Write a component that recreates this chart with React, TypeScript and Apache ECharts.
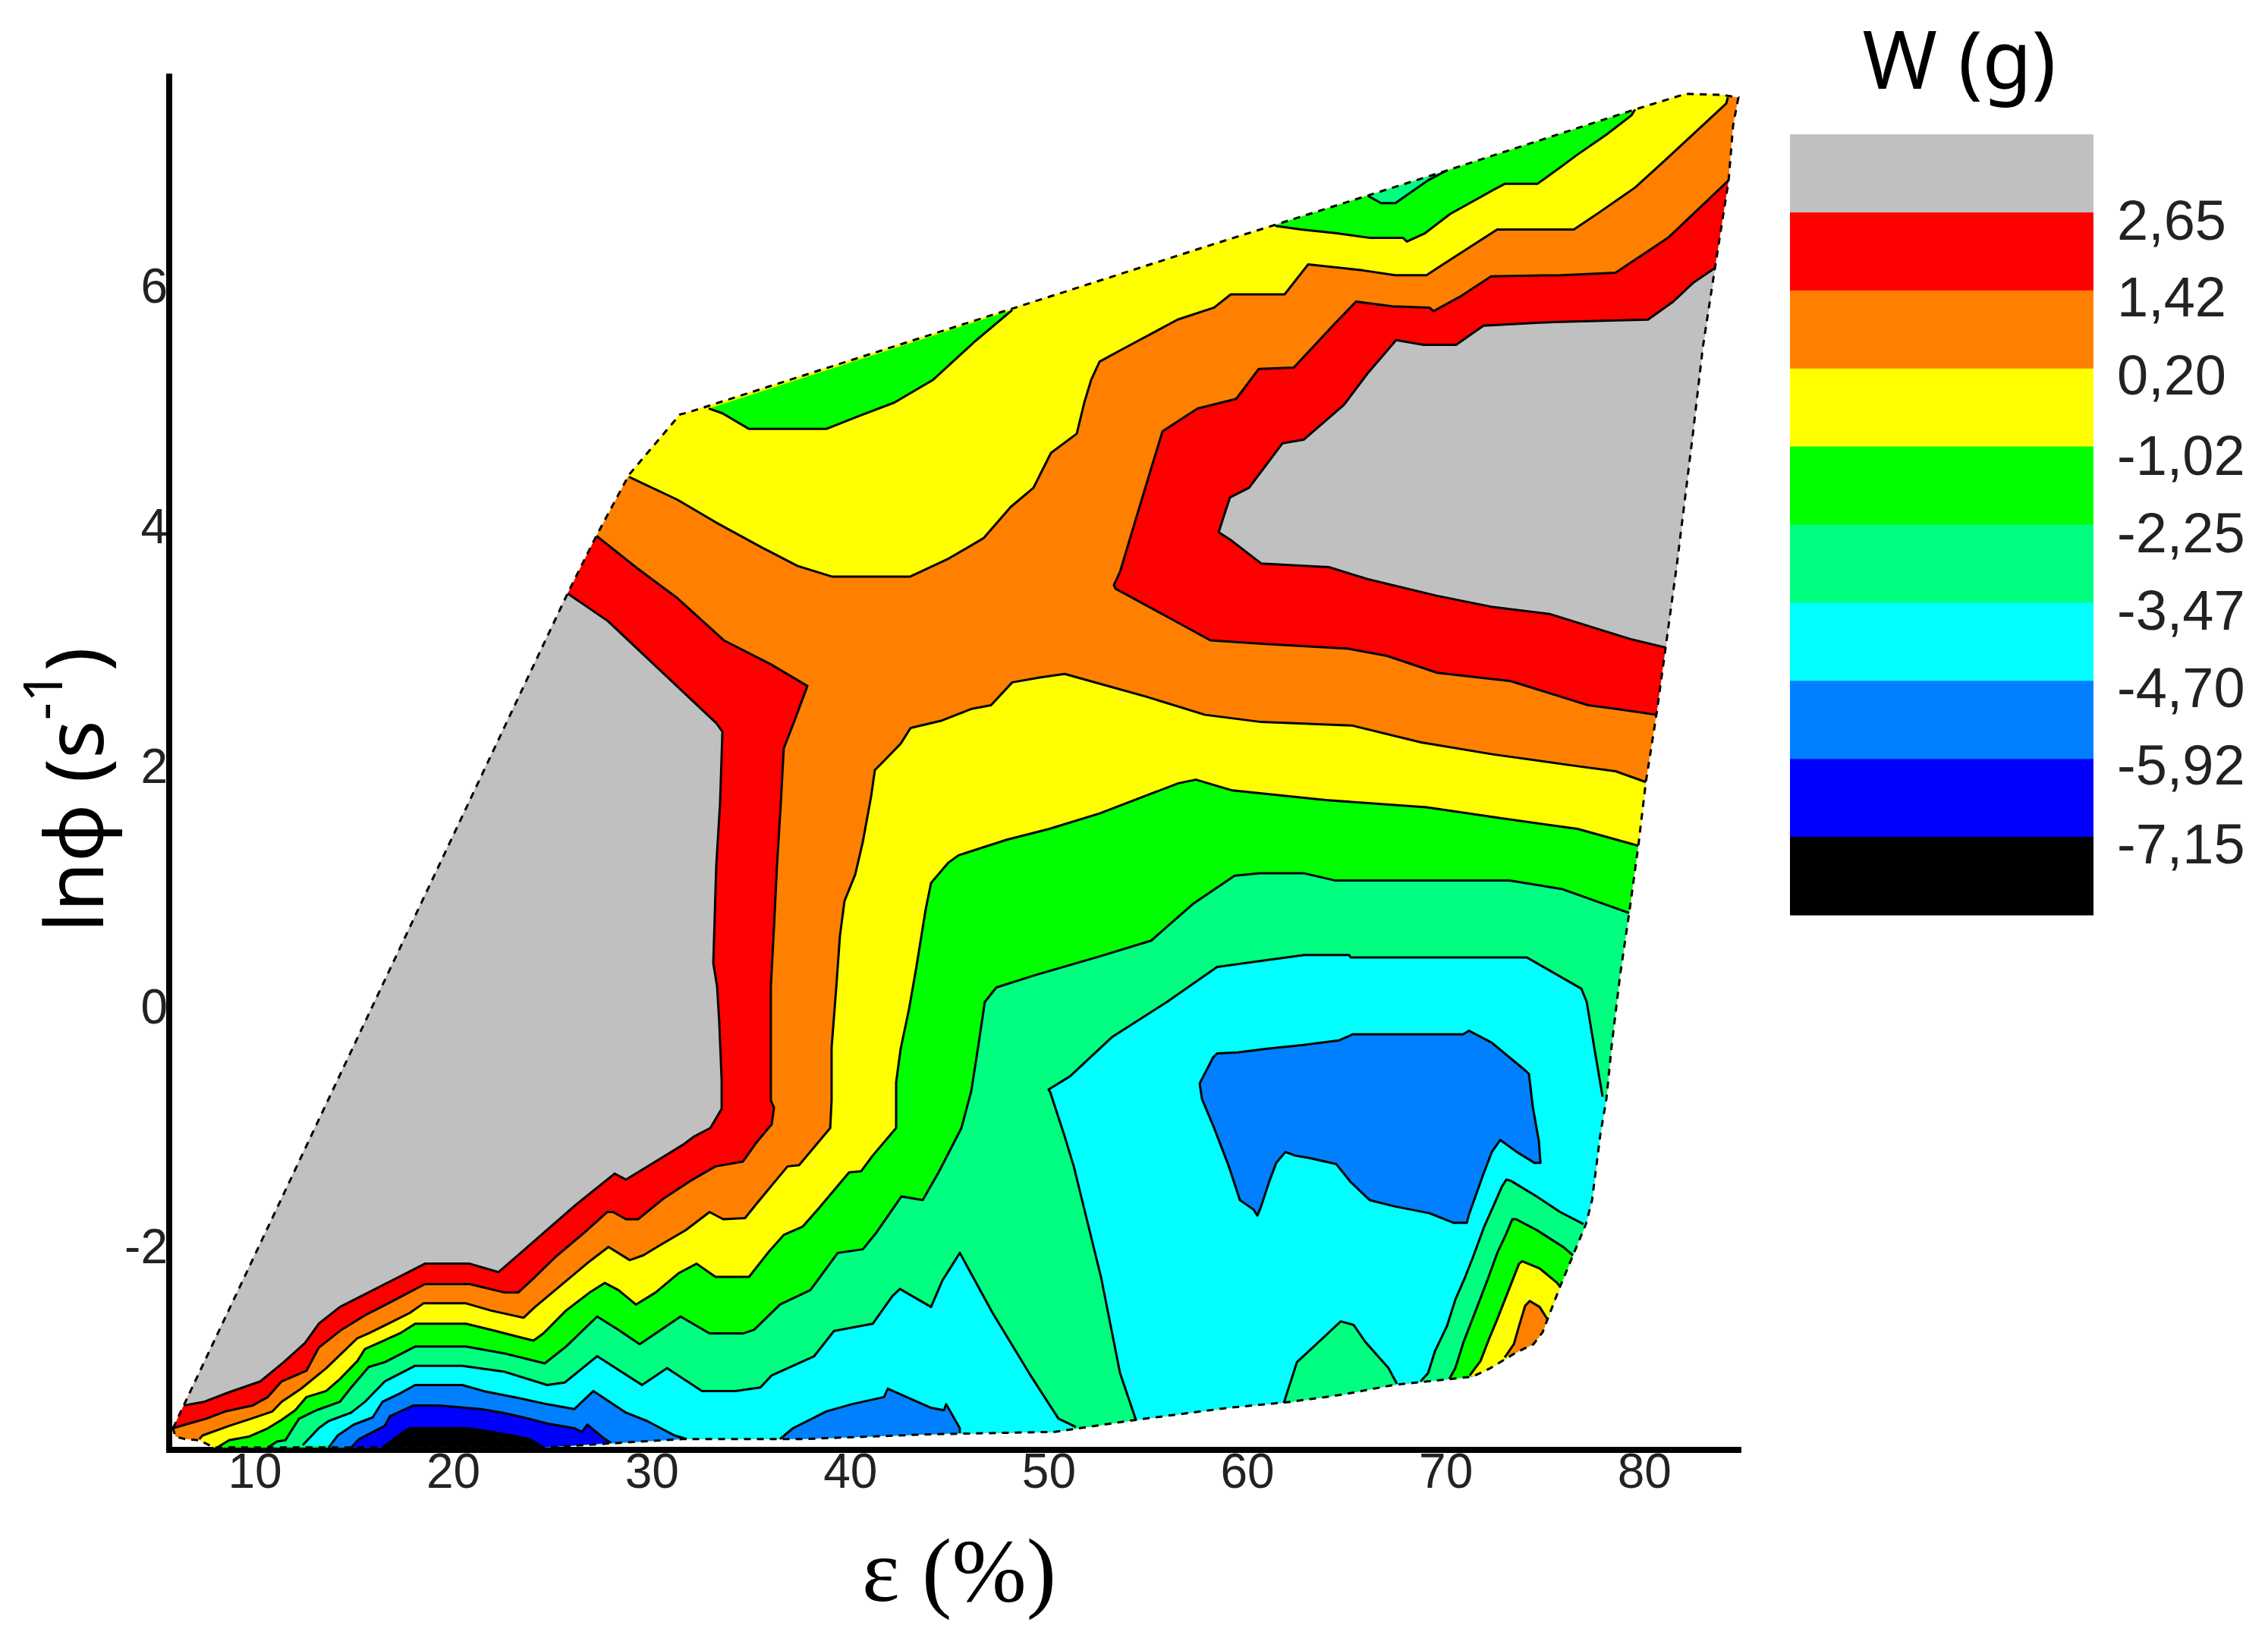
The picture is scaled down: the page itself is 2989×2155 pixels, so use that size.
import React, { useEffect, useRef } from "react";
import * as echarts from "echarts";

type P = [number, number];

const xTicks = [10, 20, 30, 40, 50, 60, 70, 80];
const yTicks = [-2, 0, 2, 4, 6];
const levelLabels = ["2,65", "1,42", "0,20", "-1,02", "-2,25", "-3,47", "-4,70", "-5,92", "-7,15"];
const levelColors = ["#C0C0C0", "#FF0000", "#FF8000", "#FFFF00", "#00FF00", "#00FF80", "#00FFFF", "#0080FF", "#0000FF", "#000000"];
const [GRAY, RED, ORANGE, YELLOW, GREEN, SPRING, CYAN, AZURE, BLUE, BLACK] = levelColors;

// Outline of the measured domain, clockwise on screen
const hull: P[] = [[5.87,-3.51],[6.41,-3.32],[25.75,3.44],[27.2,3.92],[28.85,4.43],[31.41,4.93],[31.87,4.95],[58.32,6.35],[61.41,6.51],[70.02,6.96],[79.53,7.47],[82.09,7.6],[83.93,7.59],[84.73,7.57],[84.46,7.33],[84.24,6.88],[83.55,6.15],[82.94,5.49],[82.44,4.77],[81.64,3.69],[80.95,2.85],[80.6,2.43],[80.07,1.87],[79.69,1.34],[79.23,0.78],[78.77,0.26],[78.35,-0.32],[78.08,-0.77],[77.78,-1.06],[77.36,-1.61],[77.05,-1.81],[75.75,-2.33],[75.1,-2.61],[74.87,-2.71],[74.41,-2.81],[73.53,-2.88],[72.23,-3.01],[71.35,-3.08],[67.34,-3.15],[64.78,-3.23],[62.18,-3.29],[59.04,-3.34],[54.38,-3.44],[50.29,-3.54],[44.02,-3.56],[37.6,-3.6],[31.56,-3.6],[24.53,-3.67],[7.94,-3.67],[7.2,-3.61],[6.48,-3.6],[5.99,-3.58]];

// Contour lines
const grayLeft: P[] = [[25.75,3.44],[27.78,3.21],[33.24,2.36],[33.55,2.29],[33.43,1.69],[33.24,1.18],[33.09,0.36],[33.28,0.17],[33.39,-0.13],[33.51,-0.61],[33.51,-0.85],[32.94,-1.01],[32.13,-1.08],[31.56,-1.15],[28.69,-1.44],[28.12,-1.39],[26.09,-1.66],[23.53,-2.03],[22.27,-2.21],[20.82,-2.14],[18.56,-2.14],[16.54,-2.31],[14.28,-2.5],[13.21,-2.64],[12.52,-2.8],[11.45,-2.96],[10.27,-3.12],[8.7,-3.21],[7.44,-3.29],[6.41,-3.32]];
const redLeft: P[] = [[27.2,3.92],[29.34,3.64],[31.29,3.4],[33.62,3.05],[35.99,2.85],[37.83,2.67],[37.18,2.38],[36.64,2.15],[36.49,1.69],[36.3,1.18],[36.15,0.67],[35.99,0.17],[35.99,-0.78],[36.15,-0.84],[36.03,-0.98],[35.27,-1.13],[34.58,-1.29],[33.2,-1.33],[31.94,-1.45],[30.57,-1.6],[29.3,-1.77],[28.69,-1.77],[28.04,-1.71],[27.74,-1.71],[26.67,-1.87],[25.1,-2.09],[24.11,-2.25],[23.26,-2.38],[22.58,-2.38],[20.82,-2.31],[18.56,-2.31],[17.3,-2.42],[15.54,-2.57],[14.36,-2.69],[13.21,-2.84],[12.6,-3.03],[11.34,-3.12],[10.65,-3.25],[9.89,-3.32],[8.51,-3.37],[7.55,-3.43],[6.48,-3.48],[5.87,-3.51]];
const grayRight: P[] = [[81.06,2.99],[79.3,3.06],[75.21,3.27],[72.27,3.33],[69.56,3.42],[66.04,3.56],[64.09,3.66],[61.76,3.68],[60.69,3.69],[59.2,3.88],[58.55,3.95],[58.78,4.07],[59.12,4.24],[60.08,4.32],[61.76,4.69],[62.83,4.72],[64.86,5.01],[66.04,5.27],[67.49,5.55],[68.87,5.51],[70.51,5.51],[71.89,5.67],[75.41,5.7],[80.18,5.72],[81.45,5.87],[82.48,6.03],[83.55,6.15]];
const redRight: P[] = [[80.6,2.43],[78.54,2.48],[77.16,2.51],[73.26,2.71],[69.56,2.78],[67.03,2.92],[65.08,2.98],[60.88,3.02],[58.13,3.05],[55.91,3.25],[53.35,3.48],[53.27,3.51],[53.58,3.62],[54.34,4.04],[55.11,4.46],[55.72,4.79],[57.48,4.98],[59.43,5.06],[60.57,5.31],[62.33,5.32],[64.47,5.7],[65.47,5.87],[67.3,5.83],[69.17,5.82],[69.37,5.79],[70.7,5.91],[72.27,6.08],[75.79,6.09],[78.54,6.11],[81.18,6.4],[84.24,6.88]];
const yellowUpper: P[] = [[84.2,7.57],[84.12,7.52],[80.99,7.04],[79.53,6.82],[77.7,6.61],[76.44,6.47],[72.58,6.47],[69.67,6.16],[69.02,6.09],[67.45,6.09],[65.81,6.13],[63.06,6.18],[61.87,5.93],[59.16,5.93],[58.32,5.82],[56.48,5.72],[53.77,5.48],[52.55,5.37],[52.13,5.22],[51.78,5.03],[51.4,4.77],[50.1,4.61],[49.22,4.32],[48.07,4.16],[46.7,3.9],[44.94,3.73],[42.99,3.58],[39.09,3.58],[37.33,3.67],[35.57,3.82],[33.24,4.03],[31.29,4.22],[28.85,4.41]];
const greenUpper: P[] = [[48.15,5.8],[46.28,5.54],[44.17,5.22],[42.22,5.03],[40.47,4.92],[38.78,4.81],[34.89,4.81],[33.55,4.94],[32.86,4.98]];
const greenUpperRight: P[] = [[79.53,7.47],[79.34,7.42],[78.08,7.26],[76.59,7.09],[75.86,7],[74.6,6.85],[72.96,6.85],[72.39,6.8],[70.21,6.6],[68.95,6.44],[68.03,6.37],[67.84,6.4],[66.19,6.4],[64.43,6.44],[62.71,6.47],[61.41,6.5]];
const springUpper: P[] = [[70.02,6.96],[69.1,6.88],[67.45,6.69],[66.73,6.69],[66.08,6.75]];
const yellowLower: P[] = [[7.2,-3.6],[7.36,-3.57],[8.7,-3.49],[9.81,-3.43],[10.88,-3.37],[11.34,-3.29],[12.33,-3.18],[13.59,-3.01],[15.16,-2.76],[15.73,-2.72],[17.8,-2.55],[18.49,-2.47],[20.63,-2.47],[21.89,-2.53],[23.53,-2.59],[24.11,-2.5],[25.48,-2.31],[26.86,-2.12],[27.81,-2],[28.88,-2.11],[29.57,-2.07],[30.26,-2],[31.71,-1.86],[32.9,-1.71],[33.59,-1.77],[34.69,-1.76],[35.27,-1.64],[36.83,-1.33],[37.41,-1.32],[38.98,-1.01],[39.05,-0.78],[39.05,-0.34],[39.28,0.15],[39.47,0.59],[39.7,0.88],[40.24,1.1],[40.62,1.37],[41.04,1.75],[41.23,1.97],[41.77,2.06],[42.53,2.19],[43.03,2.32],[44.56,2.38],[46.12,2.48],[47.08,2.51],[48.15,2.7],[49.53,2.74],[50.79,2.77],[52.74,2.68],[54.92,2.58],[57.86,2.43],[60.69,2.37],[65.28,2.34],[68.75,2.2],[72.39,2.1],[76.28,2.01],[78.54,1.96],[80.07,1.87]];
const greenLower: P[] = [[8.1,-3.67],[8.7,-3.61],[9.69,-3.58],[10.65,-3.51],[11.34,-3.44],[12.03,-3.36],[12.6,-3.25],[13.59,-3.2],[14.28,-3.1],[15.16,-2.95],[15.54,-2.85],[17.3,-2.72],[18.07,-2.64],[20.63,-2.64],[21.89,-2.69],[23.53,-2.76],[24.03,-2.78],[24.53,-2.72],[25.67,-2.53],[26.86,-2.38],[27.62,-2.3],[28.31,-2.36],[29.19,-2.48],[30.18,-2.38],[31.33,-2.22],[32.25,-2.14],[33.2,-2.25],[34.89,-2.25],[35.84,-2.05],[36.64,-1.9],[37.6,-1.83],[38.4,-1.68],[39.93,-1.38],[40.54,-1.37],[41.12,-1.24],[42.3,-1.01],[42.3,-0.63],[42.53,-0.35],[42.95,-0.02],[43.3,0.31],[43.79,0.81],[44.06,1.03],[44.94,1.2],[45.44,1.26],[47.88,1.39],[50.02,1.48],[52.58,1.61],[56.52,1.86],[57.4,1.89],[59.24,1.8],[63.94,1.72],[69.02,1.66],[72.73,1.57],[76.63,1.48],[79.69,1.34]];
const springLower: P[] = [[10.65,-3.67],[11.11,-3.62],[11.53,-3.61],[12.22,-3.43],[13.1,-3.36],[14.28,-3.29],[14.85,-3.17],[15.73,-3],[16.54,-2.96],[18.07,-2.83],[20.63,-2.83],[22.65,-2.89],[24.6,-2.97],[25.67,-2.83],[27.24,-2.58],[28.31,-2.69],[29.38,-2.81],[31.44,-2.58],[32.9,-2.72],[34.62,-2.72],[35.15,-2.69],[36.45,-2.48],[37.98,-2.36],[39.36,-2.05],[40.62,-2.02],[41.31,-1.88],[42.57,-1.58],[43.64,-1.61],[44.44,-1.38],[45.59,-1.01],[46.09,-0.7],[46.39,-0.38],[46.77,0.04],[47.35,0.16],[49.26,0.26],[52.58,0.42],[55.15,0.55],[57.29,0.86],[59.35,1.09],[60.61,1.11],[62.87,1.11],[64.43,1.05],[73.19,1.05],[75.83,0.98],[79.23,0.78]];
const cyanLeft: P[] = [[12.41,-3.65],[13.21,-3.51],[13.71,-3.45],[14.85,-3.38],[15.54,-3.29],[16.54,-3.12],[18.07,-2.99],[20.44,-2.99],[22.58,-3.04],[24.72,-3.15],[25.6,-3.13],[27.24,-2.91],[29.5,-3.15],[30.76,-3.01],[32.52,-3.2],[34.2,-3.2],[35.46,-3.17],[36.03,-3.07],[38.17,-2.91],[39.17,-2.7],[41.12,-2.64],[42.11,-2.41],[42.49,-2.35],[44.06,-2.5],[44.63,-2.28],[45.51,-2.05],[47.16,-2.55],[49.11,-3.08],[50.48,-3.43],[51.36,-3.5]];
const cyanRight: P[] = [[54.38,-3.44],[53.58,-3.05],[52.62,-2.25],[51.25,-1.33],[50.79,-1.08],[50.06,-0.71],[49.98,-0.69],[51.06,-0.58],[53.2,-0.25],[55.95,0.04],[58.47,0.33],[60.61,0.38],[62.87,0.43],[65.12,0.43],[65.2,0.41],[74.07,0.41],[76.82,0.15],[77.09,0.04],[77.51,-0.38],[77.89,-0.75]];
const azureLeft: P[] = [[13.71,-3.67],[14.17,-3.57],[14.97,-3.48],[15.93,-3.42],[16.42,-3.29],[17.3,-3.22],[18.07,-3.15],[20.44,-3.15],[21.51,-3.2],[23.34,-3.26],[24.72,-3.31],[26.09,-3.35],[27.05,-3.2],[28.69,-3.38],[29.76,-3.45],[31.14,-3.57],[31.75,-3.6]];
const blueLeft: P[] = [[14.85,-3.67],[15.24,-3.6],[16.54,-3.49],[16.8,-3.41],[17.99,-3.32],[19.25,-3.32],[21.39,-3.35],[22.46,-3.38],[23.53,-3.42],[24.72,-3.47],[26.09,-3.51],[26.48,-3.54],[26.74,-3.48],[27.55,-3.59],[27.93,-3.63]];
const blackLeft: P[] = [[16.42,-3.67],[17.49,-3.54],[17.8,-3.51],[20.7,-3.51],[21.89,-3.54],[22.96,-3.57],[23.84,-3.6],[24.53,-3.67]];
const azureMiddle: P[] = [[36.45,-3.6],[37.1,-3.51],[38.78,-3.37],[40.05,-3.31],[41.69,-3.25],[41.88,-3.18],[44.06,-3.34],[44.71,-3.36],[44.82,-3.31],[45.51,-3.51],[45.51,-3.55]];
const azureIsland: P[] = [[57.59,-0.64],[58.28,-0.42],[58.47,-0.39],[59.54,-0.38],[60.99,-0.35],[62.75,-0.32],[64.62,-0.28],[65.31,-0.23],[70.86,-0.23],[71.16,-0.2],[72.31,-0.3],[73.99,-0.53],[74.18,-0.56],[74.37,-0.83],[74.68,-1.12],[74.76,-1.3],[74.45,-1.3],[73.57,-1.21],[72.73,-1.11],[72.31,-1.21],[71.85,-1.41],[71.16,-1.73],[71.05,-1.8],[70.4,-1.8],[69.17,-1.72],[67.34,-1.66],[66.15,-1.61],[65.2,-1.46],[64.47,-1.31],[63.1,-1.26],[62.41,-1.24],[61.91,-1.21],[61.45,-1.3],[61.11,-1.45],[60.65,-1.68],[60.5,-1.74],[60.31,-1.69],[59.62,-1.61],[59.04,-1.32],[58.32,-1.01],[57.71,-0.77],[57.59,-0.64]];
const springBump: P[] = [[61.83,-3.3],[62.22,-3.1],[62.49,-2.96],[63.6,-2.79],[64.7,-2.62],[65.35,-2.65],[65.93,-2.79],[67.11,-3.01],[67.53,-3.14]];
const springCorner: P[] = [[68.72,-3.12],[69.1,-3.05],[69.44,-2.87],[70.05,-2.66],[70.47,-2.44],[70.97,-2.25],[71.35,-2.09],[71.93,-1.83],[72.39,-1.66],[72.81,-1.5],[73.04,-1.44],[73.27,-1.45],[74.57,-1.58],[75.75,-1.71],[76.93,-1.81]];
const greenCorner: P[] = [[70.17,-3.1],[70.47,-3.01],[70.89,-2.79],[71.5,-2.53],[72.08,-2.28],[72.61,-2.04],[73.04,-1.89],[73.34,-1.77],[73.53,-1.77],[74.57,-1.86],[75.9,-2],[76.4,-2.07]];
const yellowCorner: P[] = [[71.2,-3.07],[71.74,-2.95],[72.16,-2.77],[72.54,-2.62],[73.11,-2.38],[73.68,-2.14],[73.84,-2.12],[74.72,-2.18],[75.6,-2.3],[75.75,-2.33]];
const orangeCorner: P[] = [[72.96,-2.92],[73.42,-2.81],[73.68,-2.66],[73.99,-2.49],[74.22,-2.45],[74.72,-2.5],[75.1,-2.6]];

function nearestSegment(p: P): number {
  let best = 0, bestD = Infinity;
  hull.forEach((a, i) => {
    const b = hull[(i + 1) % hull.length];
    const dx = b[0] - a[0], dy = b[1] - a[1];
    const t = Math.max(0, Math.min(1, ((p[0] - a[0]) * dx + (p[1] - a[1]) * dy) / (dx * dx + dy * dy)));
    const ex = a[0] + t * dx - p[0], ey = (a[1] + t * dy - p[1]) * 3;
    const d = ex * ex + ey * ey;
    if (d < bestD) { bestD = d; best = i; }
  });
  return best;
}

// A region: its contour, closed by walking the outline clockwise from the contour's end to its start
function closeOnHull(c: P[]): P[] {
  const i = nearestSegment(c[c.length - 1]);
  const j = nearestSegment(c[0]);
  const arc: P[] = [];
  for (let k = i; k !== j; k = (k + 1) % hull.length) arc.push(hull[(k + 1) % hull.length]);
  return c.concat(arc);
}

const fills: { pts: P[]; color: string }[] = [
  { pts: hull, color: ORANGE },
  { pts: closeOnHull(redLeft), color: RED },
  { pts: closeOnHull(grayLeft), color: GRAY },
  { pts: closeOnHull(redRight), color: RED },
  { pts: closeOnHull(grayRight), color: GRAY },
  { pts: closeOnHull(yellowUpper), color: YELLOW },
  { pts: closeOnHull(greenUpper), color: GREEN },
  { pts: closeOnHull(greenUpperRight), color: GREEN },
  { pts: closeOnHull(springUpper), color: SPRING },
  { pts: closeOnHull(yellowLower), color: YELLOW },
  { pts: closeOnHull(greenLower), color: GREEN },
  { pts: closeOnHull(springLower), color: SPRING },
  { pts: closeOnHull(cyanLeft), color: CYAN },
  { pts: closeOnHull(cyanRight), color: CYAN },
  { pts: closeOnHull(azureLeft), color: AZURE },
  { pts: closeOnHull(blueLeft), color: BLUE },
  { pts: closeOnHull(blackLeft), color: BLACK },
  { pts: closeOnHull(azureMiddle), color: AZURE },
  { pts: azureIsland, color: AZURE },
  { pts: closeOnHull(springBump), color: SPRING },
  { pts: closeOnHull(springCorner), color: SPRING },
  { pts: closeOnHull(greenCorner), color: GREEN },
  { pts: closeOnHull(yellowCorner), color: YELLOW },
  { pts: closeOnHull(orangeCorner), color: ORANGE },
];

const lines: P[][] = [grayLeft, redLeft, grayRight, redRight, yellowUpper, greenUpper, greenUpperRight, springUpper, yellowLower, greenLower, springLower, cyanLeft, cyanRight, azureLeft, blueLeft, blackLeft, azureMiddle, azureIsland, springBump, springCorner, greenCorner, yellowCorner, orangeCorner];

export default function App() {
  const ref = useRef<HTMLDivElement>(null);
  useEffect(() => {
    const chart = echarts.init(ref.current!, null, { renderer: "svg" });
    const axisLine = { show: true, onZero: false, lineStyle: { color: "#000", width: 8, cap: "square" } };
    const barTop = 177, bandH = 102.9;
    const labelYs = [290, 391, 494, 600, 702, 804, 906, 1008, 1112];
    chart.setOption({
      animation: false,
      backgroundColor: "#fff",
      grid: { left: 223, right: 698, top: 101, bottom: 244, containLabel: false, outerBoundsMode: "none" },
      xAxis: {
        type: "value", min: 5.68, max: 84.73,
        name: "ε (%)", nameLocation: "middle", nameGap: 100,
        nameTextStyle: { fontFamily: "Liberation Serif", fontSize: 118, color: "#000", padding: [0, 0, 0, 14] },
        axisLine, axisTick: { show: false }, splitLine: { show: false },
        axisLabel: { customValues: xTicks, margin: -4, fontFamily: "Liberation Sans", fontSize: 64, color: "#222", hideOverlap: false },
      },
      yAxis: {
        type: "value", min: -3.69, max: 7.743,
        name: "{a|lnφ (s}{b|-1}{a|)}", nameLocation: "middle", nameGap: 75, nameRotate: 90,
        nameTextStyle: {
          padding: [0, 70, 0, 0],
          rich: {
            a: { fontFamily: "Noto Sans", fontSize: 106, color: "#000", lineHeight: 130, verticalAlign: "bottom" },
            b: { fontFamily: "Noto Sans", fontSize: 72, color: "#000", lineHeight: 130, verticalAlign: "top" },
          },
        },
        axisLine, axisTick: { show: false }, splitLine: { show: false },
        axisLabel: { customValues: yTicks, margin: 2, fontFamily: "Liberation Sans", fontSize: 64, color: "#222", hideOverlap: false },
      },
      graphic: [
        { type: "text", x: 2582, y: 76, style: { text: "W (g)", fontFamily: "Noto Sans", fontSize: 106, fill: "#000", align: "center", verticalAlign: "middle" } },
        ...levelColors.map((c, i) => ({ type: "rect", shape: { x: 2359, y: barTop + i * bandH, width: 400, height: bandH + 0.5 }, style: { fill: c } })),
        ...levelLabels.map((t, i) => ({ type: "text", x: 2790, y: labelYs[i], style: { text: t, fontFamily: "Liberation Sans", fontSize: 74, fill: "#222", align: "left", verticalAlign: "middle" } })),
      ],
      series: [
        {
          type: "custom", coordinateSystem: "cartesian2d", silent: true, clip: false,
          data: fills.map((_, i) => [i, 0]),
          renderItem: (params: any, api: any) => ({
            type: "polygon",
            shape: { points: fills[params.dataIndex].pts.map((p) => api.coord(p)) },
            style: { fill: fills[params.dataIndex].color },
          }),
        },
        {
          type: "custom", coordinateSystem: "cartesian2d", silent: true, clip: false,
          data: lines.map((_, i) => [i, 0]),
          renderItem: (params: any, api: any) => ({
            type: "polyline",
            shape: { points: lines[params.dataIndex].map((p) => api.coord(p)) },
            style: { fill: "none", stroke: "#000", lineWidth: 3, lineJoin: "round" },
          }),
        },
        {
          type: "custom", coordinateSystem: "cartesian2d", silent: true, clip: false,
          data: [[0, 0]],
          renderItem: (_params: any, api: any) => ({
            type: "polygon",
            shape: { points: hull.map((p) => api.coord(p)) },
            style: { fill: "none", stroke: "#000", lineWidth: 3, lineDash: [9, 8] },
          }),
        },
      ],
    });
    return () => chart.dispose();
  }, []);
  return <div ref={ref} style={{ position: "absolute", left: 0, top: 0, width: 2989, height: 2155 }} />;
}
